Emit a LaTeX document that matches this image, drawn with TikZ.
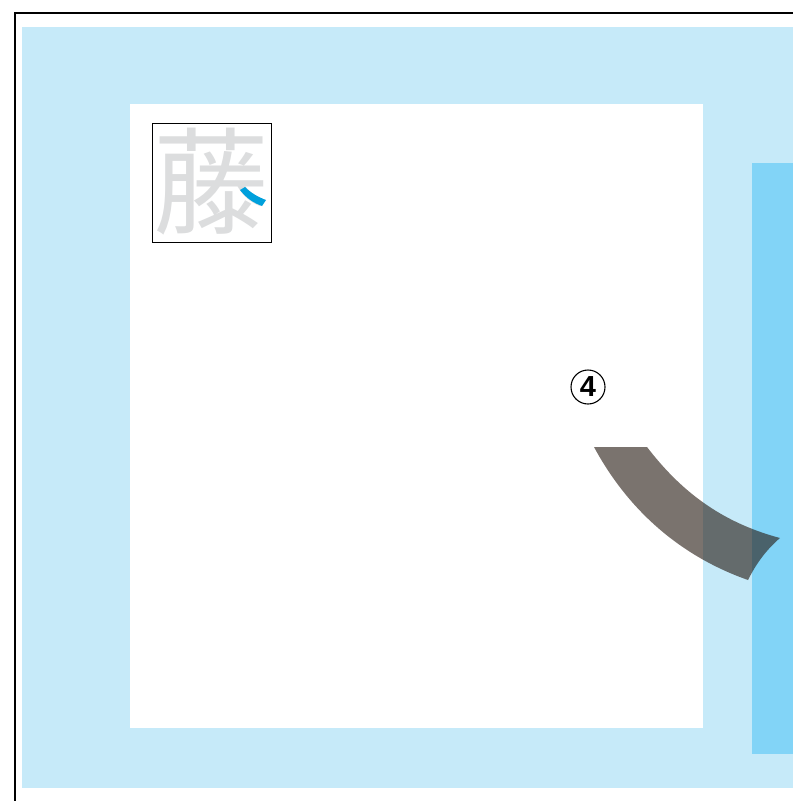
\documentclass[tikz,border=0pt]{standalone}
\usepackage{fontspec}
\newfontfamily\cjk{Noto Sans CJK SC}
\newfontfamily\symfont{Liberation Sans}
\usepackage{tikz}
\definecolor{paleblue}{RGB}{198,234,249}
\definecolor{skyblue}{RGB}{130,212,247}
\definecolor{glyphgray}{RGB}{220,221,222}
\definecolor{strokeblue}{RGB}{0,160,220}
\definecolor{bandgray}{RGB}{39,27,19}

\begin{document}
\begin{tikzpicture}[x=1pt,y=-1pt]
\useasboundingbox (0,0) rectangle (793,801);
\fill[paleblue] (22,27) rectangle (793,788);
\fill[white] (130,104) rectangle (703,728);
\fill[skyblue] (752,163) rectangle (793,754);
\draw[line width=2pt] (14.5,801) -- (14.5,12.5) -- (793,12.5);
\node[draw,line width=0.8pt,minimum size=119pt,inner sep=0pt] (box) at (211.5,182.5) {};
\node[text=glyphgray,inner sep=0pt] (kanji) at (211,182) {\fontsize{116}{116}\cjk 藤};
\fill[strokeblue] (240,190) .. controls (247,199) and (254,203) .. (262,206)
  -- (266,200) .. controls (258,197) and (251,193) .. (245,187) -- cycle;
\node[circle,draw,line width=1.1pt,minimum size=34pt,inner sep=0pt] (num) at (588,387) {\fontsize{29}{29}\symfont\bfseries 4};
\fill[bandgray,opacity=0.61] (594,447) -- (647,447) .. controls (680,490) and (720,522) .. (780,538)
  .. controls (766,550) and (756,564) .. (748,580) .. controls (680,556) and (628,510) .. (594,447) -- cycle;
\end{tikzpicture}
\end{document}
